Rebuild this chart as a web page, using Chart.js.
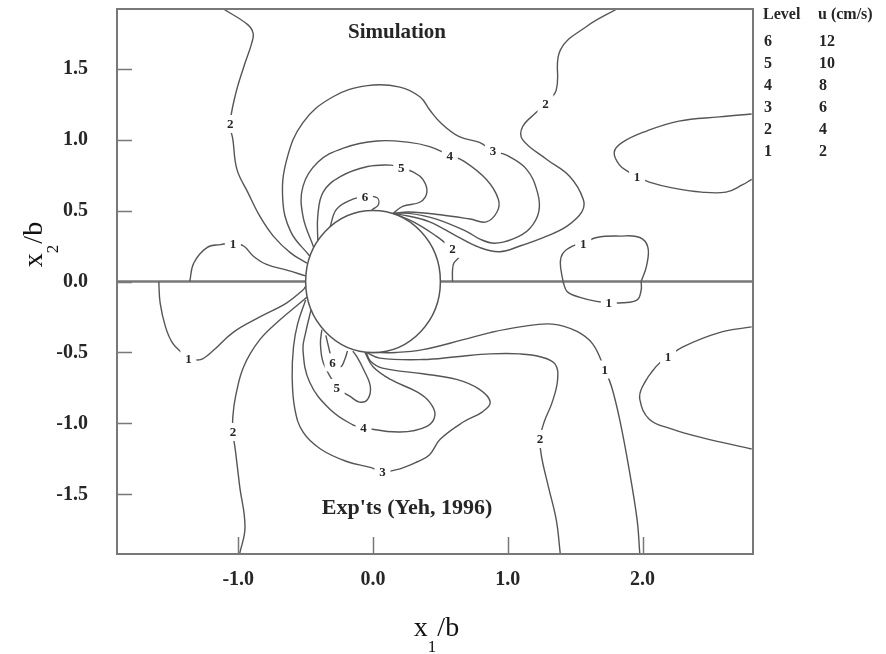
<!DOCTYPE html>
<html>
<head>
<meta charset="utf-8">
<script src="https://cdn.jsdelivr.net/npm/chart.js@4.4.1/dist/chart.umd.min.js"></script>
<style>
  html, body { margin: 0; padding: 0; background: #fff; }
  canvas { display: block; }
</style>
</head>
<body>
<canvas id="contours" width="886" height="654"></canvas>
<script>
// tick values on both axes (x1/b, x2/b)
const xTicks = [-1, 0, 1, 2];
const yTicks = [-1.5, -1, -0.5, 0, 0.5, 1, 1.5];

// level table: contour level -> velocity u (cm/s)
const levels = [6, 5, 4, 3, 2, 1];
const speeds = [12, 10, 8, 6, 4, 2];

// centre line x2/b = 0, either side of the cylinder
const westMidline = [[-1.9, 0], [-0.5, 0]];
const eastMidline = [[0.5, 0], [2.82, 0]];

// upper half: simulation contours, points as [x1/b, x2/b]
const simWest1 = [[-1.36, 0], [-1.33, 0.13], [-1.23, 0.24], [-1.13, 0.26], [-1.04, 0.27], [-0.96, 0.25], [-0.89, 0.18], [-0.79, 0.12], [-0.64, 0.08], [-0.50, 0.04]];
const simWest2 = [[-1.11, 1.92], [-0.93, 1.81], [-0.89, 1.75], [-0.90, 1.68], [-0.96, 1.51], [-1.02, 1.32], [-1.06, 1.11], [-1.04, 1.00], [-1.01, 0.79], [-0.93, 0.63], [-0.84, 0.46], [-0.74, 0.32], [-0.61, 0.20], [-0.49, 0.13]];
const sim3 = [[-0.47, 0.18], [-0.61, 0.35], [-0.67, 0.58], [-0.64, 0.86], [-0.52, 1.12], [-0.30, 1.30], [-0.04, 1.38], [0.20, 1.37], [0.35, 1.30], [0.42, 1.21], [0.50, 1.12], [0.64, 1.02], [0.79, 0.98], [0.89, 0.92], [0.99, 0.89], [1.14, 0.79], [1.22, 0.63], [1.23, 0.49], [1.16, 0.37], [1.04, 0.30], [0.90, 0.27], [0.79, 0.30], [0.70, 0.35], [0.47, 0.44], [0.27, 0.48], [0.15, 0.48]];
const sim4 = [[-0.44, 0.24], [-0.52, 0.46], [-0.52, 0.67], [-0.41, 0.84], [-0.22, 0.94], [0.03, 0.99], [0.27, 0.98], [0.42, 0.95], [0.57, 0.89], [0.67, 0.85], [0.84, 0.72], [0.93, 0.58], [0.92, 0.49], [0.84, 0.42], [0.72, 0.44], [0.50, 0.47], [0.27, 0.49], [0.15, 0.48]];
const sim5 = [[-0.41, 0.29], [-0.41, 0.46], [-0.37, 0.63], [-0.24, 0.74], [-0.04, 0.81], [0.13, 0.82], [0.21, 0.80], [0.30, 0.77], [0.37, 0.72], [0.40, 0.63], [0.35, 0.56], [0.22, 0.53], [0.15, 0.48]];
const sim6 = [[-0.32, 0.38], [-0.27, 0.51], [-0.15, 0.58], [-0.06, 0.60], [0.03, 0.59], [0.04, 0.54], [0.00, 0.51], [-0.01, 0.50]];
const simEast2 = [[1.81, 1.92], [1.59, 1.80], [1.39, 1.63], [1.36, 1.35], [1.28, 1.25], [1.21, 1.19], [1.11, 1.09], [1.11, 1.00], [1.29, 0.86], [1.46, 0.74], [1.56, 0.58], [1.55, 0.49], [1.44, 0.39], [1.29, 0.32], [1.09, 0.25], [0.94, 0.21], [0.79, 0.24], [0.62, 0.32], [0.42, 0.42], [0.27, 0.46], [0.15, 0.48]];
const simWake2 = [[0.15, 0.48], [0.30, 0.42], [0.47, 0.32], [0.55, 0.26], [0.59, 0.23], [0.64, 0.18], [0.60, 0.13], [0.59, 0.08], [0.59, 0.00]];
const simEast1 = [[2.81, 1.18], [2.57, 1.16], [2.27, 1.13], [2.03, 1.06], [1.85, 0.98], [1.79, 0.91], [1.83, 0.82], [1.90, 0.77], [1.96, 0.74], [2.05, 0.70], [2.22, 0.66], [2.44, 0.63], [2.62, 0.63], [2.74, 0.68], [2.81, 0.72]];
const simMid1 = [[1.41, 0], [1.39, 0.13], [1.41, 0.20], [1.48, 0.25], [1.56, 0.27], [1.66, 0.31], [1.83, 0.32], [1.98, 0.31], [2.04, 0.24], [2.03, 0.11], [1.99, 0]];

// lower half: experimental contours (Yeh, 1996)
const expMid1 = [[1.41, 0], [1.44, -0.07], [1.53, -0.11], [1.66, -0.14], [1.75, -0.15], [1.85, -0.15], [1.96, -0.13], [1.99, -0.06], [1.99, 0]];
const expEast1 = [[2.81, -0.32], [2.57, -0.36], [2.30, -0.46], [2.19, -0.53], [2.10, -0.60], [2.00, -0.74], [1.98, -0.83], [2.05, -0.97], [2.22, -1.04], [2.44, -1.10], [2.81, -1.18]];
const expWake1 = [[-0.02, -0.50], [0.17, -0.50], [0.37, -0.48], [0.67, -0.41], [0.87, -0.36], [1.09, -0.32], [1.33, -0.30], [1.51, -0.35], [1.63, -0.44], [1.72, -0.62], [1.77, -0.74], [1.83, -0.97], [1.90, -1.32], [1.96, -1.68], [1.98, -1.92]];
const expWake2 = [[-0.05, -0.50], [0.05, -0.54], [0.37, -0.55], [0.62, -0.53], [0.87, -0.51], [1.09, -0.51], [1.24, -0.53], [1.35, -0.58], [1.37, -0.69], [1.33, -0.85], [1.27, -0.99], [1.24, -1.11], [1.25, -1.23], [1.30, -1.44], [1.36, -1.68], [1.39, -1.92]];
const exp3 = [[-0.50, -0.13], [-0.56, -0.30], [-0.59, -0.46], [-0.60, -0.67], [-0.58, -0.90], [-0.52, -1.06], [-0.39, -1.18], [-0.19, -1.27], [-0.02, -1.31], [0.07, -1.34], [0.20, -1.32], [0.33, -1.27], [0.42, -1.22], [0.50, -1.11], [0.67, -0.99], [0.81, -0.92], [0.87, -0.85], [0.79, -0.76], [0.62, -0.69], [0.37, -0.65], [0.07, -0.61], [-0.02, -0.56], [-0.05, -0.50]];
const exp4 = [[-0.06, -0.50], [0.00, -0.60], [0.13, -0.69], [0.33, -0.78], [0.42, -0.85], [0.46, -0.94], [0.40, -1.02], [0.20, -1.06], [-0.07, -1.03], [-0.15, -1.01], [-0.32, -0.90], [-0.47, -0.71], [-0.52, -0.48], [-0.50, -0.36], [-0.46, -0.20]];
const exp5 = [[-0.38, -0.34], [-0.39, -0.44], [-0.37, -0.57], [-0.30, -0.70], [-0.27, -0.75], [-0.17, -0.81], [-0.10, -0.85], [-0.04, -0.83], [-0.02, -0.74], [-0.07, -0.62], [-0.12, -0.53], [-0.15, -0.49]];
const exp6 = [[-0.35, -0.38], [-0.32, -0.50], [-0.30, -0.57], [-0.24, -0.60], [-0.21, -0.55], [-0.19, -0.49]];
const expWest1 = [[-1.59, 0], [-1.58, -0.15], [-1.54, -0.32], [-1.49, -0.43], [-1.41, -0.51], [-1.37, -0.54], [-1.28, -0.55], [-1.19, -0.49], [-1.04, -0.36], [-0.84, -0.25], [-0.64, -0.15], [-0.52, -0.06], [-0.50, -0.035]];
const expWest2 = [[-0.99, -1.92], [-0.95, -1.73], [-0.99, -1.44], [-1.02, -1.20], [-1.04, -1.06], [-1.04, -0.95], [-1.02, -0.81], [-0.96, -0.60], [-0.84, -0.41], [-0.69, -0.27], [-0.54, -0.15], [-0.49, -0.11]];

// [points, level, index of the point carrying the level label]
const contours = [
  [simWest1, 1, 4], [simWest2, 2, 6], [sim3, 3, 13], [sim4, 4, 8], [sim5, 5, 6],
  [sim6, 6, 3], [simEast2, 2, 4], [simWake2, 2, 4], [simEast1, 1, 8], [simMid1, 1, 4],
  [expMid1, 1, 4], [expEast1, 1, 3], [expWake1, 1, 9], [expWake2, 2, 11], [exp3, 3, 9],
  [exp4, 4, 8], [exp5, 5, 4], [exp6, 6, 2], [expWest1, 1, 5], [expWest2, 2, 4],
];

const cylinderRadius = 0.5;

const SERIF = '"Liberation Serif", "Times New Roman", serif';
const LINE = '#555555';
const FRAME = '#787878';
const INK = '#262626';

const toXY = (pts) => pts.map(([x, y]) => ({ x, y }));

const datasets = contours.map(([pts, level]) => ({
  label: 'Level ' + level,
  data: toXY(pts),
  showLine: true,
  borderColor: LINE,
  borderWidth: 1.4,
  pointRadius: 0,
  tension: 0.4,
}));
[westMidline, eastMidline].forEach((pts) => {
  datasets.push({
    label: 'x2 = 0',
    data: toXY(pts),
    showLine: true,
    borderColor: FRAME,
    borderWidth: 2.5,
    pointRadius: 0,
    tension: 0,
  });
});

// text with a lowered subscript, e.g. x1/b
function subscripted(ctx, base, sub, rest, cx, cy) {
  const big = '28px ' + SERIF;
  const small = '17px ' + SERIF;
  ctx.font = big;
  const w1 = ctx.measureText(base).width;
  const w3 = ctx.measureText(rest).width;
  ctx.font = small;
  const w2 = ctx.measureText(sub).width;
  let x = cx - (w1 + w2 + w3) / 2;
  ctx.textAlign = 'left';
  ctx.textBaseline = 'alphabetic';
  ctx.font = big;
  ctx.fillText(base, x, cy);
  ctx.font = small;
  ctx.fillText(sub, x + w1, cy + 16);
  ctx.font = big;
  ctx.fillText(rest, x + w1 + w2 + 1, cy);
}

const decorations = {
  id: 'decorations',
  afterDatasetsDraw(chart) {
    const { ctx, chartArea: area, scales: { x, y } } = chart;
    ctx.save();

    // cylinder
    const cx = x.getPixelForValue(0);
    const cy = y.getPixelForValue(0);
    const rx = x.getPixelForValue(cylinderRadius) - cx;
    const ry = cy - y.getPixelForValue(cylinderRadius);
    ctx.beginPath();
    ctx.ellipse(cx, cy, rx, ry, 0, 0, Math.PI * 2);
    ctx.fillStyle = '#fff';
    ctx.fill();
    ctx.lineWidth = 1.5;
    ctx.strokeStyle = LINE;
    ctx.stroke();

    // contour level labels sitting in a gap of their line
    ctx.font = 'bold 13px ' + SERIF;
    ctx.textAlign = 'center';
    ctx.textBaseline = 'middle';
    contours.forEach(([pts, level, at]) => {
      const px = x.getPixelForValue(pts[at][0]);
      const py = y.getPixelForValue(pts[at][1]);
      ctx.fillStyle = '#fff';
      ctx.fillRect(px - 8, py - 9, 16, 18);
      ctx.fillStyle = INK;
      ctx.fillText(String(level), px, py + 1);
    });

    // frame and inward ticks
    ctx.strokeStyle = FRAME;
    ctx.lineWidth = 2;
    ctx.strokeRect(area.left, area.top, area.right - area.left, area.bottom - area.top);
    ctx.beginPath();
    yTicks.forEach((v) => {
      const py = Math.round(y.getPixelForValue(v)) + 0.5;
      ctx.moveTo(area.left, py);
      ctx.lineTo(area.left + 15, py);
    });
    xTicks.forEach((v) => {
      const px = Math.round(x.getPixelForValue(v)) + 0.5;
      ctx.moveTo(px, area.bottom);
      ctx.lineTo(px, area.bottom - 17);
    });
    ctx.lineWidth = 1.5;
    ctx.stroke();

    // panel captions
    ctx.fillStyle = INK;
    ctx.textAlign = 'center';
    ctx.textBaseline = 'middle';
    ctx.font = 'bold 21px ' + SERIF;
    ctx.fillText('Simulation', 397, 33);
    ctx.font = 'bold 22px ' + SERIF;
    ctx.fillText("Exp'ts (Yeh, 1996)", 407, 508);

    // level table
    ctx.font = 'bold 16px ' + SERIF;
    ctx.textAlign = 'left';
    ctx.fillText('Level', 763, 15);
    ctx.fillText('u (cm/s)', 818, 15);
    levels.forEach((lv, i) => {
      ctx.fillText(String(lv), 764, 42 + i * 22);
      ctx.fillText(String(speeds[i]), 819, 42 + i * 22);
    });

    // axis titles
    ctx.fillStyle = '#111';
    subscripted(ctx, 'x', '1', '/b', 436, 636);
    ctx.save();
    ctx.translate(42, 245);
    ctx.rotate(-Math.PI / 2);
    subscripted(ctx, 'x', '2', '/b', 0, 0);
    ctx.restore();

    ctx.restore();
  },
};

const tickFont = { family: SERIF, size: 20, weight: 'bold' };

new Chart(document.getElementById('contours'), {
  type: 'scatter',
  data: { datasets },
  options: {
    responsive: false,
    animation: false,
    events: [],
    layout: { padding: { top: 9, right: 133, left: 0, bottom: 0 } },
    plugins: { legend: { display: false }, tooltip: { enabled: false } },
    scales: {
      x: {
        type: 'linear',
        min: -1.9,
        max: 2.82,
        afterBuildTicks: (axis) => { axis.ticks = xTicks.map((value) => ({ value })); },
        afterFit: (axis) => { axis.height = 100; axis.paddingLeft = 0; axis.paddingRight = 0; },
        grid: { display: false, drawTicks: false },
        border: { display: false },
        ticks: { font: tickFont, color: INK, padding: 14, maxRotation: 0, callback: (v) => v.toFixed(1) },
      },
      y: {
        type: 'linear',
        min: -1.92,
        max: 1.92,
        afterBuildTicks: (axis) => { axis.ticks = yTicks.map((value) => ({ value })); },
        afterFit: (axis) => { axis.width = 117; axis.paddingTop = 0; axis.paddingBottom = 0; },
        grid: { display: false, drawTicks: false },
        border: { display: false },
        ticks: { font: tickFont, color: INK, padding: 29, callback: (v) => v.toFixed(1) },
      },
    },
  },
  plugins: [decorations],
});
</script>
</body>
</html>
